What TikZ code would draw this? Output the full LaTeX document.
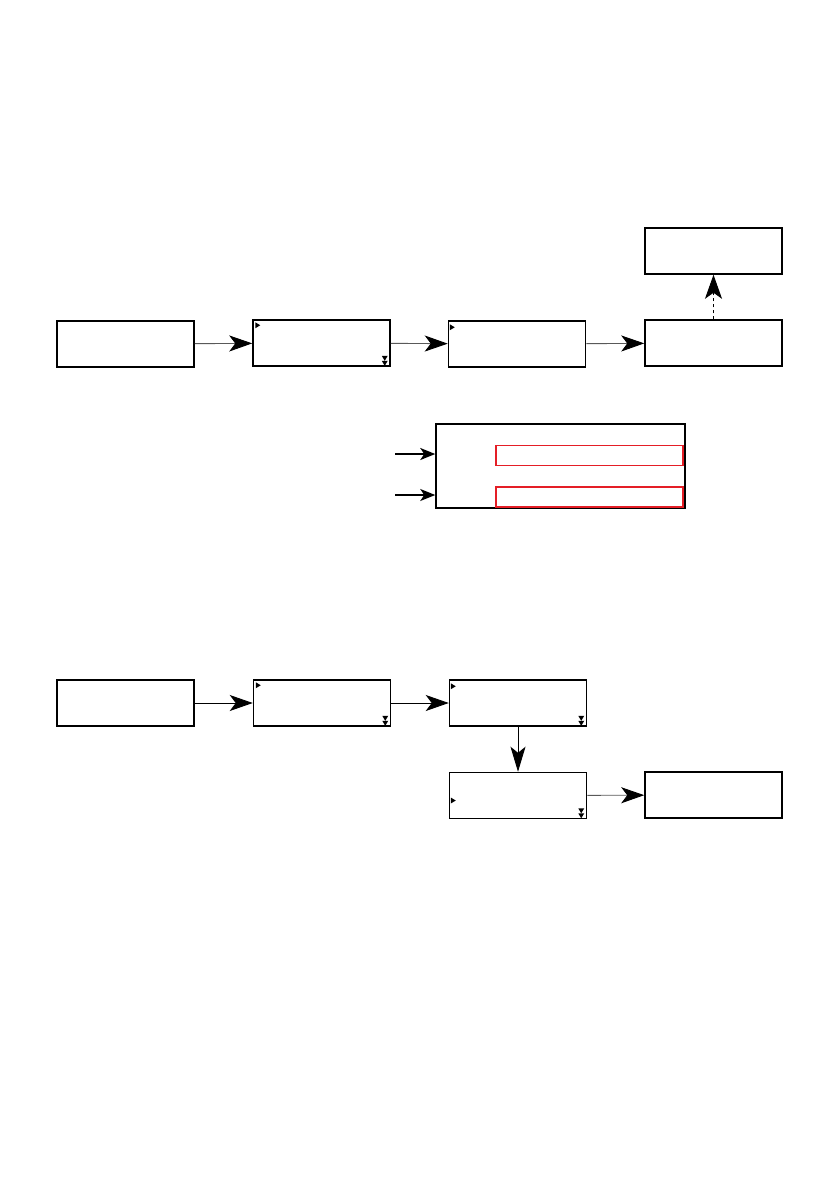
\documentclass[tikz,border=0pt]{standalone}
\usetikzlibrary{arrows.meta}
\definecolor{fieldred}{RGB}{228,30,38}
\tikzstyle{screen}=[draw, line width=1.5bp, minimum width=137bp, minimum height=46bp, inner sep=0pt]
\tikzstyle{field}=[draw=fieldred, line width=1.8bp, minimum width=187bp, minimum height=20bp, inner sep=0pt]
\tikzstyle{flow}=[draw=black!65, line width=0.9bp, -{Stealth[length=23bp, width=16bp, inset=6bp, black]}]
\tikzstyle{press}=[black, -{Stealth[length=15bp, width=12bp, inset=4bp]}]
\tikzset{
  cursor/.pic={\fill (0,0) -- (0,6) -- (5,3) -- cycle;},
  scrolldown/.pic={\fill (0,0) -- (6,0) -- (3,5) -- cycle;
                   \fill (0,5) -- (6,5) -- (3,10) -- cycle;}
}

\begin{document}
\begin{tikzpicture}[x=1bp, y=-1bp]
  \fill[white] (0,0) rectangle (840,1192);
  \useasboundingbox (0,0) rectangle (840,1192);
  % top row
  \node[screen] (home) at (125.5, 344) {};
  \node[screen] (menu) at (321.5, 343) {};
  \node[screen] (sub) at (517, 344) {};
  \node[screen] (done) at (713.5, 343) {};
  \node[screen] (info) at (713.5, 251) {};
  \pic at ([shift={(3,3)}]menu.north west) {cursor};
  \pic at ([shift={(-9,-11)}]menu.south east) {scrolldown};
  \pic at ([shift={(2,4)}]sub.north west) {cursor};
  \draw[flow] (home) -- (menu);
  \draw[flow] (menu) -- (sub);
  \draw[flow] (sub) -- (done);
  \draw[black, dashed, line width=0.9bp,
        -{Stealth[length=24bp, width=17bp, inset=6bp]}] (done) -- (info);

  % entry screen
  \node[screen, minimum width=249bp, minimum height=84bp] (entry) at (560.5, 466) {};
  \node[field] (first) at (589.5, 455.5) {};
  \node[field] (second) at (589.5, 497) {};
  \coordinate (in1) at (395, 454);
  \coordinate (in2) at (395, 495);
  \draw[press, line width=2bp] (in1) -- (in1 -| entry.west);
  \draw[press, line width=1.2bp] (in2) -- (in2 -| entry.west);

  % bottom row
  \node[screen] (start) at (125.5, 703) {};
  \node[screen] (list) at (322, 703) {};
  \node[screen] (item) at (518, 703) {};
  \node[screen] (edit) at (518, 795.5) {};
  \node[screen] (saved) at (713.5, 795) {};
  \pic at ([shift={(3,3)}]list.north west) {cursor};
  \pic at ([shift={(-9,-11)}]list.south east) {scrolldown};
  \pic at ([shift={(2,4)}]item.north west) {cursor};
  \pic at ([shift={(-9,-11)}]item.south east) {scrolldown};
  \pic at ([shift={(2,2)}]edit.west) {cursor};
  \pic at ([shift={(-9,-11)}]edit.south east) {scrolldown};
  \draw[flow, draw=black] (start) -- (list);
  \draw[flow, draw=black] (list) -- (item);
  \draw[flow, draw=black, -{Stealth[length=25bp, width=15bp, inset=6bp]}] (item) -- (edit);
  \draw[flow] (edit) -- (saved);
\end{tikzpicture}
\end{document}
